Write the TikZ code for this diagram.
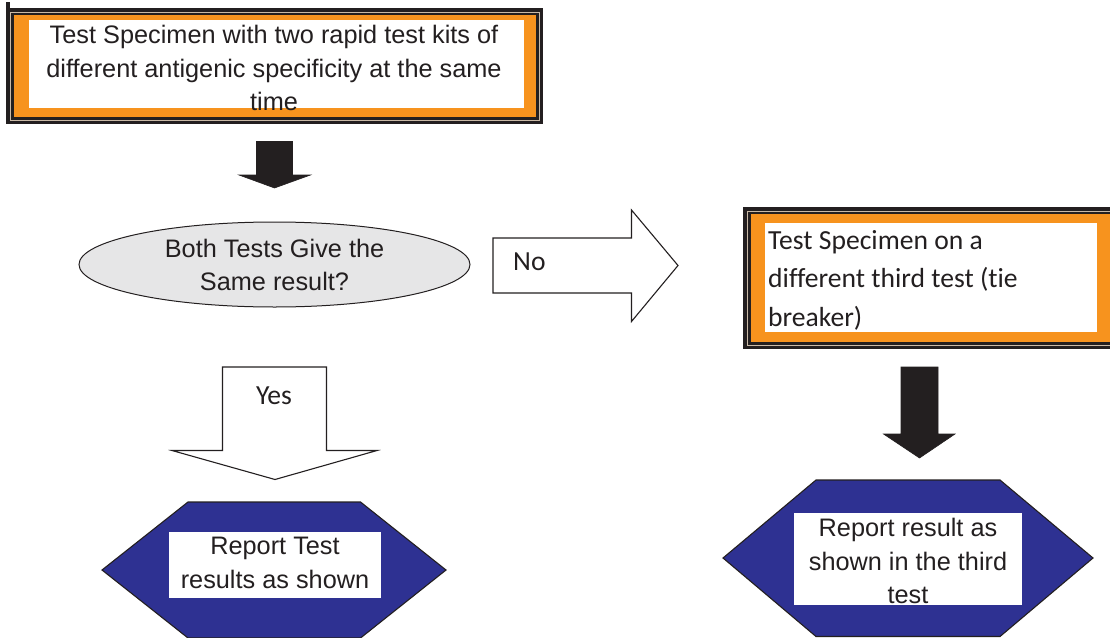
\documentclass[tikz,border=0pt]{standalone}
\usepackage{fontspec}
\setmainfont{Liberation Sans}
\newfontfamily\calibfont[Ligatures={NoCommon,NoDiscretionary,NoContextual}]{Carlito}
\definecolor{ink}{HTML}{231F20}
\definecolor{frameorange}{HTML}{F7931E}
\definecolor{gapgray}{HTML}{C9B9A6}
\definecolor{hexblue}{HTML}{2E3192}
\definecolor{ovalgray}{HTML}{E6E6E7}

\tikzset{
  arial/.style={text=ink, inner sep=0pt, font=\fontsize{25.3}{33.5}\selectfont},
  calib/.style={text=ink, inner sep=0pt, font=\calibfont\fontsize{27.6}{38.5}\selectfont},
  blockarrow/.style={fill=white, draw=ink, line width=1.1pt, line join=miter},
  solidarrow/.style={fill=ink, draw=ink, line width=0.6pt},
  hexagon/.style={fill=hexblue, draw=ink, line width=1.1pt},
  whitepanel/.style={fill=white, draw=none},
}

% layered orange frame: outer dark rule, light gap, inner dark rule, orange band
\newcommand{\orangeframe}[4]{%
  \fill[ink] (#1,#2) rectangle (#3,#4);
  \fill[gapgray] ({#1+3.5},{#2+3.5}) rectangle ({#3-3.5},{#4-3.5});
  \fill[ink] ({#1+4.5},{#2+4.5}) rectangle ({#3-4.5},{#4-4.5});
  \fill[frameorange] ({#1+7.5},{#2+7}) rectangle ({#3-7.5},{#4-7});
}

\begin{document}
\begin{tikzpicture}[x=1pt, y=-1pt]
\useasboundingbox (0,0) rectangle (1110,637);
\clip (0,0) rectangle (1110,637);

% ---------- first step box ----------
\fill[ink] (6,2) rectangle (10,8);
\orangeframe{6}{8}{543}{124}
\fill[whitepanel] (29,20) rectangle (524,108);
\node[arial, align=center] (start) at (274,68)
  {Test Specimen with two rapid test kits of\\different antigenic specificity at the same\\time};

% ---------- solid down arrow ----------
\path[solidarrow] (256.5,141.5) -- (292.5,141.5) -- (292.5,175) -- (310.5,175)
  -- (274.5,188) -- (239,175) -- (256.5,175) -- cycle;

% ---------- decision ----------
\draw[fill=ovalgray, draw=ink, line width=1pt] (274.5,264.5) ellipse [x radius=195.5, y radius=42.5];
\node[arial, align=center] (decide) at (274.5,265) {Both Tests Give the\\Same result?};

% ---------- "No" block arrow ----------
\path[blockarrow] (493,238) -- (631.5,238) -- (631.5,210) -- (678,265.5)
  -- (631.5,321.5) -- (631.5,293) -- (493,293) -- cycle;
\node[calib, anchor=west] (no) at (513,262) {No};

% ---------- tie breaker box ----------
\orangeframe{743}{207}{1122}{349}
\fill[whitepanel] (765,223) rectangle (1097,332);
\node[calib, align=left, anchor=west] (third) at (768,280)
  {Test Specimen on a\\different third test (tie\\breaker)};

% ---------- "Yes" block arrow ----------
\path[blockarrow] (222.5,367) -- (326.5,367) -- (326.5,450.5) -- (377,450.5)
  -- (275,479.5) -- (172,450.5) -- (222.5,450.5) -- cycle;
\node[calib] (yes) at (274,396) {Yes};

% ---------- solid down arrow on the right ----------
\path[solidarrow] (901,367) -- (938,367) -- (938,434) -- (955,434)
  -- (919.5,458) -- (883.5,434) -- (901,434) -- cycle;

% ---------- report boxes ----------
\path[hexagon] (188,502) -- (360.5,502) -- (446,570) -- (360.5,638)
  -- (188,638) -- (102,570) -- cycle;
\fill[whitepanel] (169,532) rectangle (381,598);
\node[arial, align=center] (reportA) at (275,563) {Report Test\\results as shown};

\path[hexagon] (816,480) -- (1000,480) -- (1093,558) -- (1000,636.5)
  -- (816,636.5) -- (723,558) -- cycle;
\fill[whitepanel] (794,513) rectangle (1022,605);
\node[arial, align=center] (reportB) at (908,561) {Report result as\\shown in the third\\test};
\end{tikzpicture}
\end{document}
